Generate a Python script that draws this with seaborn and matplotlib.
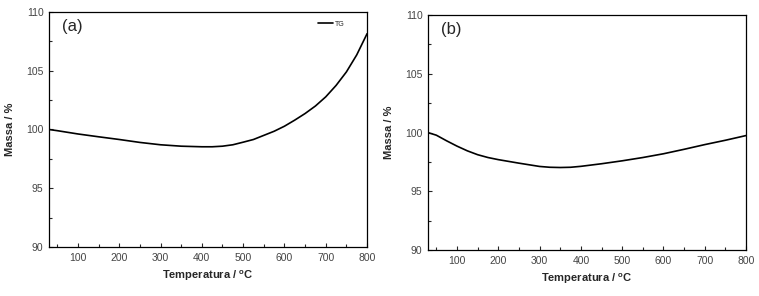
import numpy as np
import pandas as pd
import matplotlib
matplotlib.use("Agg")
import matplotlib.pyplot as plt
import seaborn as sns
from matplotlib.ticker import MultipleLocator

# curva TG (a)
temp_a = [30, 50, 100, 150, 200, 250, 300, 350, 400, 425, 450, 475, 500, 525, 550, 575, 600,
          625, 650, 675, 700, 725, 750, 775, 800]
massa_a = [100.0, 99.9, 99.62, 99.38, 99.15, 98.9, 98.7, 98.58, 98.53, 98.53, 98.58, 98.7,
           98.92, 99.15, 99.5, 99.85, 100.28, 100.8, 101.36, 102.0, 102.78, 103.75, 104.9,
           106.35, 108.15]

# curva TG (b)
temp_b = [30, 50, 75, 100, 125, 150, 175, 200, 250, 300, 325, 350, 375, 400, 450, 500, 550,
          600, 650, 700, 750, 800]
massa_b = [100.0, 99.78, 99.3, 98.85, 98.45, 98.12, 97.88, 97.7, 97.4, 97.12, 97.05, 97.03,
           97.05, 97.13, 97.35, 97.6, 97.88, 98.2, 98.58, 98.98, 99.35, 99.75]

sns.set_style("ticks")
plt.rcParams['font.family'] = ['Liberation Sans', 'DejaVu Sans']

fig = plt.figure(figsize=(7.59, 2.96), dpi=100)
ax_a = fig.add_axes([0.0646, 0.1655, 0.419, 0.794])
ax_b = fig.add_axes([0.564, 0.155, 0.419, 0.794])

df_a = pd.DataFrame({'Temperatura': temp_a, 'Massa': massa_a})
df_b = pd.DataFrame({'Temperatura': temp_b, 'Massa': massa_b})

sns.lineplot(data=df_a, x='Temperatura', y='Massa', ax=ax_a, color='black', lw=1.2, label='TG')
sns.lineplot(data=df_b, x='Temperatura', y='Massa', ax=ax_b, color='black', lw=1.2, legend=False)

for ax, tag in [(ax_a, '(a)'), (ax_b, '(b)')]:
    ax.set_xlim(30, 800)
    ax.set_ylim(90, 110)
    ax.xaxis.set_major_locator(MultipleLocator(100))
    ax.xaxis.set_minor_locator(MultipleLocator(50))
    ax.yaxis.set_major_locator(MultipleLocator(5))
    ax.yaxis.set_minor_locator(MultipleLocator(2.5))
    ax.tick_params(which='major', direction='in', length=3, width=0.8, labelsize=7.5,
                   labelcolor='#444444', pad=4)
    ax.tick_params(which='minor', direction='in', length=2, width=0.8)
    for s in ax.spines.values():
        s.set_linewidth(0.9)
        s.set_color('black')
    ax.set_xlabel('Temperatura / $^{\\mathregular{o}}$C', fontsize=8, fontweight='bold', labelpad=4)
    ax.set_ylabel('Massa / %', fontsize=8, fontweight='bold', labelpad=8)
    ax.text(0.04, 0.97, tag, transform=ax.transAxes, fontsize=12, va='top', ha='left')

leg = ax_a.legend(loc='upper right', frameon=False, fontsize=5, handlelength=2.2,
                  handletextpad=0.3, bbox_to_anchor=(0.95, 0.99))

fig.savefig('out.png', dpi=100)
